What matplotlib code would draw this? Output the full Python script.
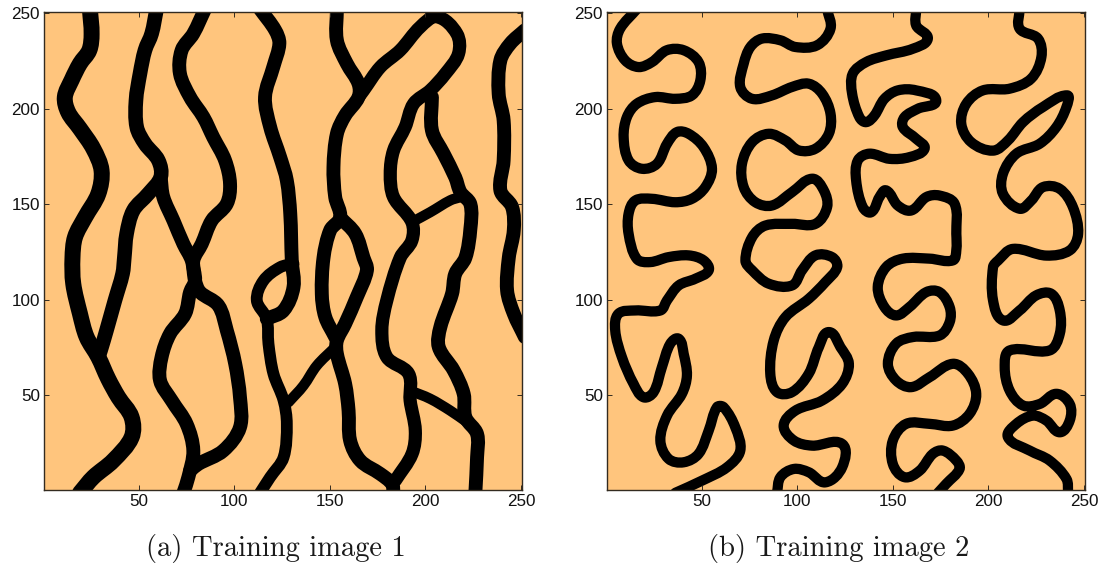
import math
import matplotlib
matplotlib.use("Agg")
import matplotlib.pyplot as plt
from matplotlib.path import Path
from matplotlib.patches import PathPatch

TICKS = [50, 100, 150, 200, 250]
CAPTIONS = ["(a) Training image 1", "(b) Training image 2"]

A1 = [(24.5,252),(25.4,239),(24.2,230.5),(19.3,223.5),(15,215),(11.4,206),(13.2,198),(19.3,189.5),(26.3,179),(30.6,167.6),(28.9,155.4),(21.9,143),(16.7,132.7),(15.4,122),(15.8,108.4),(19.3,92.7),(22.8,80.5),(28.9,70),(34.1,58.6),(39.4,49),(46.3,38.6),(46.3,28),(36.7,15.9),(26.3,7.2),(19.3,-1)]
B1 = [(59.4,252),(56.8,239.2),(53.3,230.5),(50.7,218.3),(48.6,204.3),(49,190.3),(53.3,181.6),(60.3,172.9),(61.5,164.1),(55,155.4),(47.2,146.7),(43.7,134.5),(42.5,122),(41.6,113.6),(37.6,99.7),(33.2,84),(30.1,73.5),(28.9,70)]
C1 = [(84.7,252),(78.6,239.2),(72.5,230.5),(71.6,218.3),(76.9,206),(83.9,195.5),(89,185),(95.2,172.9),(97.8,160.6),(96.1,150.2),(88.2,141.4),(83,129.2),(78.6,120.5),(79.5,110),(76.9,104),(74.3,92.7),(66.4,82.2),(62,70),(61.2,57.8),(67.3,47.3),(75.1,35),(78.6,21.1),(76,7.2),(73.4,-1)]
D1 = [(61.5,164.1),(62.9,153.7),(68.2,141.4),(73.4,129.2),(77.8,120.5),(79.5,110),(82.1,104),(91.7,97),(96.1,84),(100.5,66.5),(103,49),(103,33.3),(94.3,21.1),(81.2,14.1),(76.9,10.6)]
E1 = [(113.5,252),(121.4,241),(123.6,234),(120.5,222),(116.1,206),(118.8,190.3),(124,174.6),(127.5,162.4),(129.3,145),(130.1,120.5),(131,106.6),(125.8,94.4),(117,90)]
E2 = [(131,118.8),(124,117),(115.3,110),(111.8,99.7),(117,90),(117.9,77),(120.5,61.3),(125.8,47.3),(127.5,35),(125.8,17.6),(118.8,7.2),(113.5,-1)]
F1 = [(153.7,252),(153.7,235.7),(158.9,223.5),(165,213),(165,206),(158,196.4),(153.7,186.8),(151.9,169.4),(152.8,153.7),(155.4,143),(150.2,136.4),(146.7,122),(145.8,103.1),(147.6,91),(152.8,80.5)]
F2 = [(155.4,143),(163.3,134.5),(167.6,122),(169.4,115.4),(164.1,101.4),(158,87.4),(153.7,78.7),(153.7,71.7),(158,56),(159.8,42),(160.6,26.4),(165.9,15.9),(176.4,8.9),(182.5,3.7),(183.3,-1)]
F3 = [(152.8,75.2),(143.2,65.6),(136.2,55.1),(128.4,46.4)]
G1 = [(165,206),(167.6,209.5),(176.4,221.7),(186.8,230.5),(197.3,242.7),(206,248),(216.4,239.2),(217.3,228.7),(210.4,218.2),(202.5,209.5),(193.8,202.5),(189.4,190.3),(183.3,178),(181.6,166),(183.3,153.7),(192.9,140.6),(192.9,131),(186.8,122),(179.8,99.7),(177.2,84),(179.8,70),(191.2,61.3),(192,47.3),(194.7,31.6),(193,19.4),(184.2,5.4)]
H1 = [(203.4,206),(203.4,188.6),(209.5,176.4),(215.6,164),(218.3,156.3),(223.5,150),(223.5,137),(220.9,122),(215.6,113.6),(213.9,103.1),(207.8,85.7),(207,75.2),(214.8,63),(220,50.8),(220.9,38.6),(227,29.8),(227,17.6),(226.1,-1)]
H2 = [(192.9,140.6),(202.5,145.8),(213,152),(218.3,153.7)]
H3 = [(192,52.5),(202.5,48.2),(213,42),(221.7,36)]
J1 = [(252,241),(244.4,234),(239.2,225.2),(238.3,207.8),(240.9,193.8),(240.9,172.9),(239.2,157.2),(245.3,148.5),(246.2,136.3),(243.6,122),(242.7,104.9),(246.2,92.7),(252,80.5)]

R1 = [(16.1,252),(7.4,241.8),(5.7,234),(10,225.2),(17,221.7),(24,224.3),(31.8,230.5),(40.6,230.5),(48.4,224.3),(49.3,214.7),(44.9,206.9),(36.2,205.1),(25.7,206),(16.1,202.5),(10.9,195.5),(9.2,185),(11.8,172.9),(18.8,168.5),(26.6,171.1),(31.9,181.6),(37.1,187.7),(43.2,186.8),(51,179.8),(55.4,168.5),(51.9,158.9),(44.9,152.8),(36.2,151),(24,152.8),(15.3,151.9),(11.8,145),(11.8,134.5),(16.1,121.4),(23.1,119.7),(32.7,122.3),(43.2,123.2),(51,120.6),(53.7,115.4),(46.7,111),(38,107.5),(31.9,99.7),(28.4,94.4),(15.3,94.4),(6.5,92.7),(4.8,84),(8.3,70),(14.4,56),(19.6,49),(24.9,51.7),(29.2,64.7),(33.6,77),(38,79.6),(40.6,71.7),(42.3,60.4),(39.7,50.8),(31.9,39.4),(28.4,26.4),(32.7,16.8),(40.6,15),(48.4,19.4),(53.7,31.6),(58,43.8),(61.5,43.8),(67.6,33.3),(70.2,21.1),(63.3,12.4),(50.2,5.4),(36.2,-1)]
R2 = [(115.6,252),(117.4,241.8),(110.4,233.1),(99,232.2),(91.2,235.7),(81.6,236.6),(75.5,232.2),(72,223.5),(70.2,211.3),(76.4,205.1),(86.8,206.9),(97.3,211.3),(106,213),(113,207.8),(117.4,197.3),(116.5,186.8),(109.5,179),(100.8,178.1),(93.8,183.3),(85.1,186.8),(76.4,182.4),(71.1,171.1),(72,158.9),(78.1,151),(86.8,149.3),(97.3,156.3),(107.8,163.3),(113.9,157.2),(115.6,148.4),(109.5,139.7),(97.3,139.7),(83.3,138.8),(76.4,132.7),(72.9,120.5),(76.4,115.4),(85.1,108.4),(97.3,107.5),(102.5,115.4),(109.5,123.2),(118.2,122.3),(120.9,117.1),(114.7,109.2),(106,100.5),(93.8,90.9),(87.7,78.7),(85.9,61.3),(89.4,51.7),(97.3,51.7),(106,61.3),(111.3,75.2),(116.5,83.1),(122.6,75.2),(127,66.5),(123.5,56),(113,47.3),(99,42),(92.9,34.2),(98.2,26.4),(107.8,23.7),(123.5,24.6),(123.5,12.4),(114.7,4.5),(106,9.8),(98.2,11.5),(91.2,7.2),(89.4,-1)]
R3 = [(162.2,252),(162.2,243.5),(168.3,236.6),(160.5,231.3),(146.5,227.8),(136,224.3),(129,218.2),(128.7,207.8),(132.5,195.5),(136,192.9),(140.4,196.4),(145.6,205.1),(152.6,209.5),(162.2,209.5),(172.7,204.3),(163.1,199.9),(156.1,195.5),(155.2,190.3),(162.2,184.2),(166.6,179),(158.7,174.6),(148.3,173.7),(137.8,176.4),(131.7,172.9),(130.8,162.4),(134.3,148.4),(138.7,145.8),(143,153.7),(146.5,157.2),(152.6,149.3),(159.6,146.7),(167.5,153.7),(174.4,154.5),(182.3,150.2),(183.2,134.5),(183.2,126),(181.4,120.6),(169.2,121.5),(155.2,121.5),(146.5,117.1),(142.1,106.6),(145.6,96.2),(151.7,91.8),(158.7,96.2),(167.5,104),(174.4,104),(179.7,96.2),(179.7,88.3),(174.4,81.3),(160.5,80.5),(151.7,77),(147.4,66.5),(151.7,57.8),(159.6,54.3),(169.2,59.5),(181.4,66.5),(189.3,61.3),(193.6,50.8),(190.1,40.3),(181.4,34.2),(169.2,35.1),(157,35.1),(150,26.4),(150,14.1),(156.1,7.2),(164,10.6),(170.9,19.4),(176.2,21.1),(183.2,15.9),(184.9,11.5),(177.9,3.7),(173.6,-1)]
R4 = [(216.3,252),(216.3,241.8),(225.9,236.6),(227.7,227),(222.4,215.7),(211.1,210.4),(197.1,209.5),(188.4,202.5),(185.8,192),(191,182.4),(202.4,178),(210.2,183.3),(218.1,192.9),(228.5,200.8),(241.1,206.9),(240.8,200.8),(235.5,190.3),(226.8,181.6),(214.6,176.4),(207.6,165.9),(207.6,155.4),(216.3,147.6),(222.4,151.9),(228.5,158.9),(237.3,158),(244.2,148.4),(246.9,134.5),(242.5,125.8),(230.3,123.1),(212.8,126.6),(205,120.5),(202.4,117.1),(202.4,99.7),(207.6,89.2),(216.3,94.4),(225,102.3),(232.9,103.1),(237.3,94.4),(237.3,82.2),(232,73.5),(211.1,73.5),(208.5,64.7),(211.1,52.5),(218.1,44.7),(226.8,45.5),(235.5,50.8),(242.5,45.5),(242.5,36.8),(237.3,30.7),(230.3,36.8),(223.3,39.4),(214.6,35.1),(210.2,28.1),(221.6,21.1),(232,15.9),(240.8,6.3),(241.7,-1)]

CHANNELS_1 = [A1, B1, C1, D1, E1, E2, F1, F2, F3, G1, H1, H2, H3, J1]
WIDTHS_1 = [11.5, 10.5, 10, 10, 10, 8.5, 10, 10, 7.5, 9.5, 10, 7.5, 7.5, 10]
CHANNELS_2 = [R1, R2, R3, R4]
WIDTHS_2 = [7.4, 7.4, 7.4, 7.4]

BG = "#FFC57D"
FRAME = "#332b20"


def unit_tangent(points, i):
    a = points[max(i - 1, 0)]
    b = points[min(i + 1, len(points) - 1)]
    dx, dy = b[0] - a[0], b[1] - a[1]
    n = math.hypot(dx, dy) or 1.0
    return dx / n, dy / n


def channel_patch(points, width):
    verts = [points[0]]
    codes = [Path.MOVETO]
    for i in range(len(points) - 1):
        p, q = points[i], points[i + 1]
        seg = math.hypot(q[0] - p[0], q[1] - p[1]) / 3
        tp, tq = unit_tangent(points, i), unit_tangent(points, i + 1)
        verts += [(p[0] + tp[0] * seg, p[1] + tp[1] * seg),
                  (q[0] - tq[0] * seg, q[1] - tq[1] * seg), q]
        codes += [Path.CURVE4] * 3
    return PathPatch(Path(verts, codes), fill=False, edgecolor="black", lw=width,
                     joinstyle="round", capstyle="round")


W, H = 1102, 570
fig = plt.figure(figsize=(W / 100, H / 100), dpi=100, facecolor="white")
lefts = [44, 607]
caption_x = [276, 838.5]
panels = [(CHANNELS_1, WIDTHS_1), (CHANNELS_2, WIDTHS_2)]
for left, cx, cap, (chans, widths) in zip(lefts, caption_x, CAPTIONS, panels):
    ax = fig.add_axes([left / W, (H - 490) / H, 478 / W, 478 / H], facecolor=BG)
    for pts, w in zip(chans, widths):
        ax.add_patch(channel_patch(pts, w))
    ax.set_xlim(0.5, 250.5)
    ax.set_ylim(0.5, 250.5)
    ax.set_xticks(TICKS)
    ax.set_yticks(TICKS)
    ax.tick_params(direction="in", length=3.6, width=0.7, top=True, right=True,
                   labelsize=12.3, pad=3, color=FRAME, labelcolor="#111111")
    for lab in ax.get_xticklabels() + ax.get_yticklabels():
        lab.set_fontfamily("Liberation Sans")
    for s in ax.spines.values():
        s.set_linewidth(1.0)
        s.set_color(FRAME)
        s.set_zorder(5)
    fig.text(cx / W, (H - 548.5) / H, cap, ha="center", va="center",
             family="cmr10", fontsize=20.6, color="#1a1a1a")

fig.savefig("out.png", dpi=100)
